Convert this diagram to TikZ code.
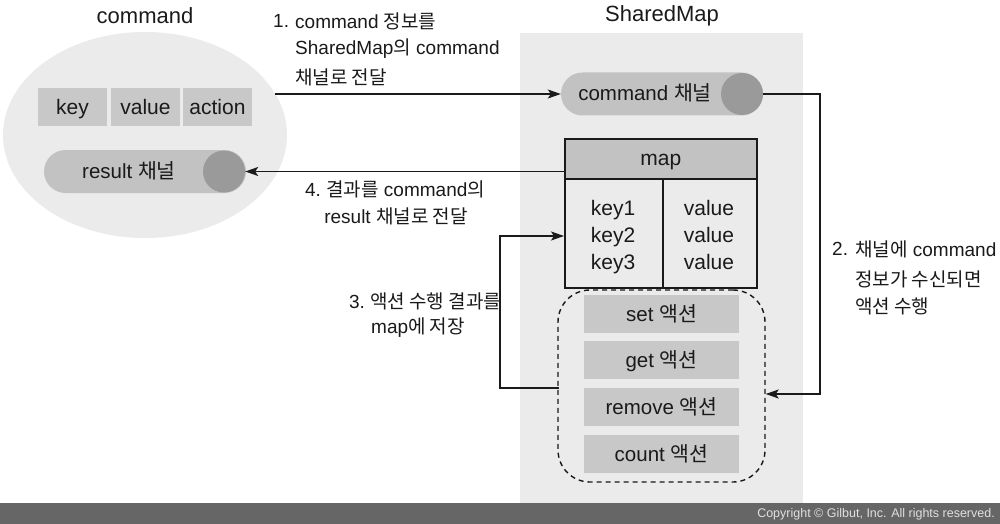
\documentclass[tikz,border=0pt]{standalone}
\usepackage{fontspec}
\setmainfont{Liberation Sans}
\newfontfamily\krfont{Noto Sans CJK KR}
\newcommand\kr[1]{{\krfont #1}}
\usetikzlibrary{arrows.meta}
\definecolor{bgl}{HTML}{EBEBEB}
\definecolor{boxg}{HTML}{C8C8C8}
\definecolor{capg}{HTML}{C2C2C2}
\definecolor{dotg}{HTML}{9A9A9A}
\definecolor{foot}{HTML}{666666}
\definecolor{ink}{HTML}{1A1A1A}
\tikzset{
  ttl/.style={font=\fontsize{22}{26}\selectfont, text=ink, inner sep=0pt},
  lbl/.style={font=\fontsize{19}{22}\selectfont, text=ink, inner sep=0pt, anchor=west},
  cbox/.style={fill=boxg, draw=none, minimum width=69pt, minimum height=38pt, inner sep=0pt, font=\fontsize{21}{24}\selectfont, text=ink, text height=17pt, text depth=3pt},
  abox/.style={fill=boxg, draw=none, minimum width=155pt, minimum height=38pt, inner sep=0pt, font=\fontsize{20.5}{24}\selectfont, text=ink, text height=17pt, text depth=3pt},
  capsule/.style={fill=capg, draw=none, rounded corners=21.5pt, minimum width=202pt, minimum height=43pt, inner sep=0pt},
  dot/.style={circle, fill=dotg, draw=none, minimum size=42pt, inner sep=0pt},
  captext/.style={font=\fontsize{20.5}{24}\selectfont, text=ink, inner sep=0pt, text height=17pt, text depth=3pt},
  mcell/.style={draw=ink, line width=1.5pt, inner sep=0pt},
  mtext/.style={font=\fontsize{21}{24}\selectfont, text=ink, inner sep=0pt, text height=17pt, text depth=3pt},
  conn/.style={draw=ink, line width=1.4pt},
  arr/.style={conn, -{Stealth[length=13pt,width=9pt,inset=3pt]}},
}
\begin{document}
\begin{tikzpicture}[x=1pt,y=-1pt]
\useasboundingbox (0,0) rectangle (1000,524);
\fill[white] (0,0) rectangle (1000,524);
% SharedMap background
\fill[bgl] (520,33) rectangle (803,503);
% footer
\fill[foot] (0,503) rectangle (1000,524);
\node[anchor=east, font=\fontsize{12.5}{14}\selectfont, text=white!88!black, inner sep=0pt] (copy) at (995,514.5) {Copyright © Gilbut, Inc. All rights reserved.};

% titles
\node[ttl] (t1) at (145,16) {command};
\node[ttl] (t2) at (662,16) {SharedMap};

% command ellipse
\fill[bgl] (145,135) ellipse [x radius=142pt, y radius=103pt];
\node[cbox] (key) at (72.5,107) {key};
\node[cbox] (val) at (145.5,107) {value};
\node[cbox] (act) at (217.5,107) {action};
\node[capsule] (res) at (145,171.5) {};
\node[dot] (resdot) at (224,171.5) {};
\node[captext] (restxt) at (129,171.5) {result \kr{채널}};

% command channel
\node[capsule] (cmd) at (662,94) {};
\node[dot] (cmddot) at (742,94) {};
\node[captext] (cmdtxt) at (645,94) {command \kr{채널}};

% map table
\node[mcell, fill=capg, minimum width=192pt, minimum height=40pt, anchor=north west] (mhead) at (564,138) {};
\node[mcell, fill=bgl, minimum width=98pt, minimum height=109pt, anchor=north west] (mkeys) at (564,178) {};
\node[mcell, fill=bgl, minimum width=94pt, minimum height=109pt, anchor=north west] (mvals) at (662,178) {};
\node[mtext] (mheadt) at (mhead.center) {map};
\node[mtext] (k1) at (613,208) {key1};
\node[mtext] (k2) at (613,235) {key2};
\node[mtext] (k3) at (613,262) {key3};
\node[mtext] (v1) at (709,208) {value};
\node[mtext] (v2) at (709,235) {value};
\node[mtext] (v3) at (709,262) {value};

% actions
\node[draw=ink, line width=1.4pt, dash pattern=on 5pt off 4pt, rounded corners=32pt, minimum width=207pt, minimum height=192pt, inner sep=0pt] (acts) at (661.5,386) {};
\node[abox] (aset) at (661.5,314) {set \kr{액션}};
\node[abox] (aget) at (661.5,360) {get \kr{액션}};
\node[abox] (arem) at (661.5,407) {remove \kr{액션}};
\node[abox] (acnt) at (661.5,454) {count \kr{액션}};

% arrow 1
\coordinate (a1s) at (275,94);
\draw[arr] (a1s) -- (cmd.west);
\node[lbl] (l1n) at (273,21) {1.};
\node[lbl] (l1a) at (295,21) {command \kr{정보를}};
\node[lbl] (l1b) at (295,49) {SharedMap\kr{의} command};
\node[lbl] (l1c) at (295,77) {\kr{채널로 전달}};

% arrow 2
\coordinate (a2a) at (820,94);
\coordinate (a2b) at (820,394);
\draw[arr] (cmd.east) -- (a2a) -- (a2b) -- (acts.east |- a2b);
\node[lbl] (l2n) at (832,249) {2.};
\node[lbl] (l2a) at (855,249) {\kr{채널에} command};
\node[lbl] (l2b) at (855,279) {\kr{정보가 수신되면}};
\node[lbl] (l2c) at (855,306) {\kr{액션 수행}};

% arrow 3
\coordinate (a3s) at (559,388);
\coordinate (a3a) at (500,388);
\coordinate (a3b) at (500,236);
\draw[arr] (a3s) -- (a3a) -- (a3b) -- (mkeys.west |- a3b);
\node[lbl, anchor=center] (l3a) at (425,301) {3.\ \kr{액션 수행 결과를}};
\node[lbl, anchor=center] (l3b) at (418,328) {map\kr{에 저장}};

% arrow 4
\draw[arr] (mhead.west |- resdot.east) -- (resdot.east);
\node[lbl, anchor=center] (l4a) at (395,189) {4.\ \kr{결과를} command\kr{의}};
\node[lbl, anchor=center] (l4b) at (396,216) {result \kr{채널로 전달}};
\end{tikzpicture}
\end{document}
